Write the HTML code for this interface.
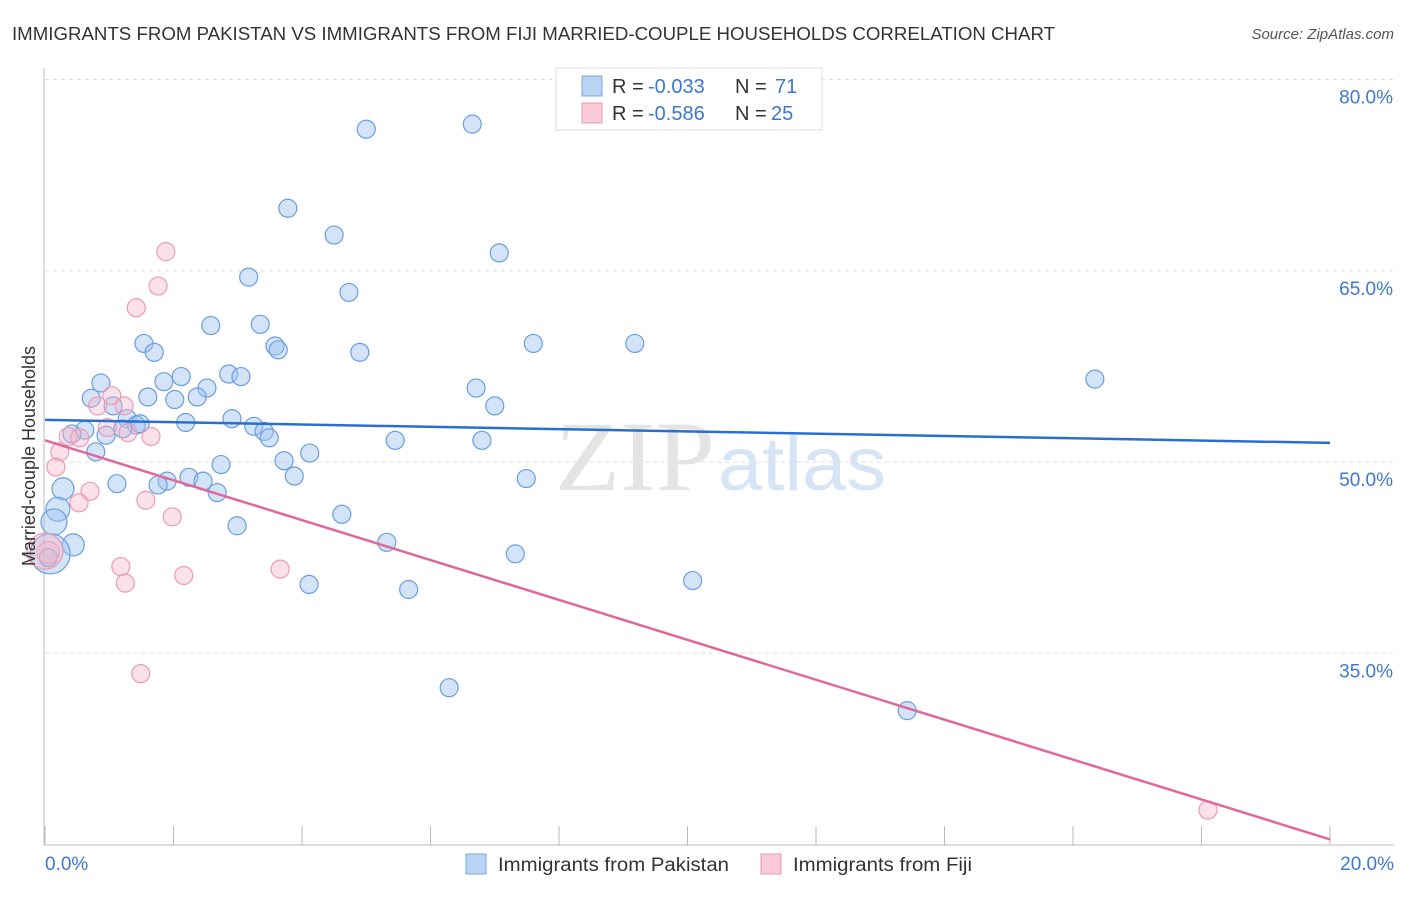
<!DOCTYPE html>
<html><head><meta charset="utf-8"><style>
body{margin:0;background:#fff;font-family:"Liberation Sans",sans-serif}
</style></head><body>
<svg width="1406" height="892" xmlns="http://www.w3.org/2000/svg">
<text x="12" y="40" font-size="18" fill="#333" textLength="1043" lengthAdjust="spacingAndGlyphs">IMMIGRANTS FROM PAKISTAN VS IMMIGRANTS FROM FIJI MARRIED-COUPLE HOUSEHOLDS CORRELATION CHART</text>
<text x="1394" y="39" font-size="15" fill="#555" font-style="italic" text-anchor="end">Source: ZipAtlas.com</text>
<g id="grid"></g>
<g>
<text x="555" y="490" font-size="100" fill="#e4e4e4" font-family="Liberation Serif" textLength="160" lengthAdjust="spacingAndGlyphs">ZIP</text>
<text x="718" y="490" font-size="76" fill="#d6e4f5" textLength="168" lengthAdjust="spacingAndGlyphs">atlas</text>
</g>
<g id="marks"></g>
<text x="35" y="456" font-size="18" fill="#333" text-anchor="middle" transform="rotate(-90 35 456)">Married-couple Households</text>
<g>
<rect x="556" y="68" width="266" height="62" fill="#fff" stroke="#ddd"/>
<rect x="582" y="76" width="20" height="20" fill="#b9d3f3" stroke="#7aa8e0"/>
<rect x="582" y="103" width="20" height="20" fill="#f9cad8" stroke="#eb9bb5"/>
<text x="612" y="93" font-size="20" fill="#333">R =</text>
<text x="648" y="93" font-size="20" fill="#3e78cc">-0.033</text>
<text x="735" y="93" font-size="20" fill="#333">N =</text>
<text x="775" y="93" font-size="20" fill="#3e78cc">71</text>
<text x="612" y="120" font-size="20" fill="#333">R =</text>
<text x="648" y="120" font-size="20" fill="#3e78cc">-0.586</text>
<text x="735" y="120" font-size="20" fill="#333">N =</text>
<text x="771" y="120" font-size="20" fill="#3e78cc">25</text>
</g>
<g>
<rect x="466" y="854" width="20" height="20" fill="#b9d3f3" stroke="#7aa8e0"/>
<text x="498" y="871" font-size="19" fill="#333" textLength="231" lengthAdjust="spacingAndGlyphs">Immigrants from Pakistan</text>
<rect x="761" y="854" width="20" height="20" fill="#f9cad8" stroke="#eb9bb5"/>
<text x="793" y="871" font-size="19" fill="#333" textLength="179" lengthAdjust="spacingAndGlyphs">Immigrants from Fiji</text>
</g>
</svg>
<script>
const yTicks=[80,65,50,35];
const yTickLabels=["80.0%","65.0%","50.0%","35.0%"];
const xTicks=[0,2,4,6,8,10,12,14,16,18,20];
const pakX=[5.0,6.65,3.78,4.5,7.07,3.17,4.73,2.58,3.35,1.54,3.58,3.63,1.7,4.9,7.6,9.18,16.34,0.87,1.85,2.12,2.86,3.05,2.52,2.37,1.6,0.72,2.02,6.71,7.0,1.06,1.28,2.19,2.91,3.25,3.41,3.49,1.42,1.21,0.62,0.42,0.95,0.79,5.45,6.8,4.12,3.72,2.74,3.88,2.24,2.46,1.9,1.76,1.12,2.68,7.49,0.28,0.2,0.14,4.62,2.99,5.32,0.44,0.08,7.32,4.11,5.66,10.08,6.29,13.42,1.48,0.05];
const pakY=[76.1,76.5,69.9,67.8,66.4,64.5,63.3,60.7,60.8,59.3,59.1,58.8,58.6,58.6,59.3,59.3,56.5,56.2,56.3,56.7,56.9,56.7,55.8,55.1,55.1,55.0,54.9,55.8,54.4,54.4,53.4,53.1,53.4,52.8,52.4,51.9,52.9,52.6,52.5,52.2,52.1,50.8,51.7,51.7,50.7,50.1,49.8,48.9,48.8,48.5,48.5,48.2,48.3,47.6,48.7,47.9,46.3,45.3,45.9,45.0,43.7,43.5,42.8,42.8,40.4,40.0,40.7,32.3,30.5,53.0,42.5];
const pakR=[9,9,9,9,9,9,9,9,9,9,9,9,9,9,9,9,9,9,9,9,9,9,9,9,9,9,9,9,9,9,9,9,9,9,9,9,9,9,9,9,9,9,9,9,9,9,9,9,9,9,9,9,9,9,9,11,12,13,9,9,9,11,20,9,9,9,9,9,9,9,9];
const fijiX=[1.88,1.76,1.42,1.04,0.82,1.23,0.97,1.29,1.65,0.36,0.54,0.23,0.17,0.7,0.53,1.57,1.98,1.18,1.25,2.16,3.66,1.49,18.1,0.05,0.0];
const fijiY=[66.5,63.8,62.1,55.2,54.4,54.4,52.7,52.3,52.0,52.0,51.9,50.8,49.6,47.7,46.8,47.0,45.7,41.8,40.5,41.1,41.6,33.4,22.7,42.9,43.0];
const fijiR=[9,9,9,9,9,9,9,9,9,9,9,9,9,9,9,9,9,9,9,9,9,9,9,11,18];
const pakLine=[53.3,51.5];
const fijiLine=[51.7,20.4];
const NS="http://www.w3.org/2000/svg";
const X=v=>45+v*64.25, Y=v=>462-(v-50)*12.75;
function mk(tag,attrs,parent){const e=document.createElementNS(NS,tag);for(const k in attrs)e.setAttribute(k,attrs[k]);parent.appendChild(e);return e;}
const grid=document.getElementById('grid'),marks=document.getElementById('marks');
yTicks.forEach((t,i)=>{
 const l=mk('line',{x1:45,x2:1394,y1:Y(t),y2:Y(t),stroke:'#ddd','stroke-dasharray':'4,4'},grid);
 
 
 const tx=mk('text',{x:1393,y:Y(t)+24,'font-size':19,fill:'#3e78cc','text-anchor':'end'},grid);
 tx.textContent=yTickLabels[i];
 
 
});
const ax=mk('line',{x1:44,x2:44,y1:68,y2:845,stroke:'#bbb'},grid);


const bx=mk('line',{x1:44,x2:1394,y1:845,y2:845,stroke:'#bbb'},grid);


xTicks.forEach(t=>{const l=mk('line',{x1:X(t),x2:X(t),y1:826,y2:845,stroke:'#bbb'},grid);
 
 });
[[0,"0.0%",'start',45],[20,"20.0%",'end',1394]].forEach(a=>{const t=mk('text',{x:a[3],y:870,'font-size':19,fill:'#3e78cc','text-anchor':a[2]},grid);t.textContent=a[1];
 
 });
pakX.forEach((v,i)=>{const c=mk('circle',{cx:X(v),cy:Y(pakY[i]),r:pakR[i],fill:'rgba(160,195,240,0.45)',stroke:'#6a9de0','stroke-width':1.2},marks);
 
 });
fijiX.forEach((v,i)=>{const c=mk('circle',{cx:X(v),cy:Y(fijiY[i]),r:fijiR[i],fill:'rgba(246,180,200,0.4)',stroke:'#eb9bb5','stroke-width':1.2},marks);
 
 });
const l1=mk('line',{x1:X(0),x2:X(20),y1:Y(pakLine[0]),y2:Y(pakLine[1]),stroke:'#2a6fd0','stroke-width':2.5},marks);


const l2=mk('line',{x1:X(0),x2:X(20),y1:Y(fijiLine[0]),y2:Y(fijiLine[1]),stroke:'#e0679a','stroke-width':2.5},marks);


</script>
</body></html>
